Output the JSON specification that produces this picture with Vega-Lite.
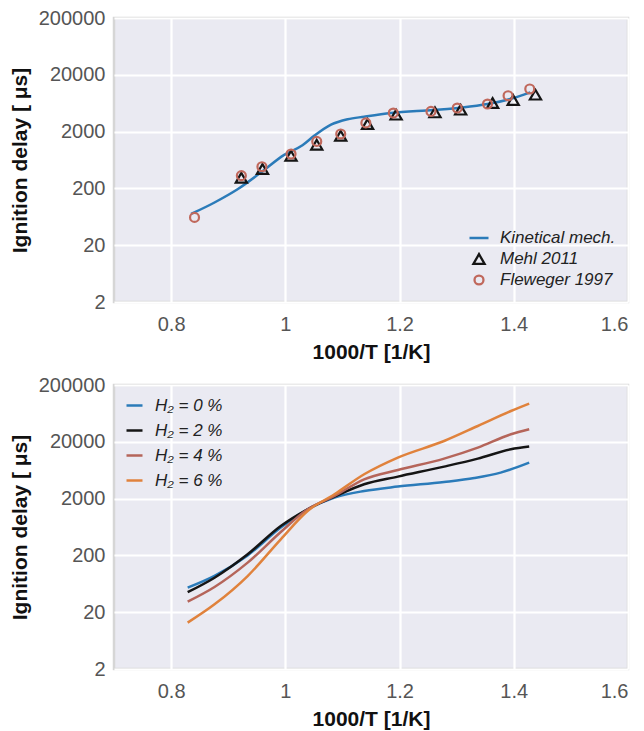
{
  "$schema": "https://vega.github.io/schema/vega-lite/v6.json",
  "padding": {"left": 8, "top": 6, "right": 5, "bottom": 5},
  "spacing": 9,
  "resolve": {"scale": {"color": "independent", "shape": "independent", "size": "independent"}, "legend": {"color": "independent", "shape": "independent", "size": "independent"}},
  "config": {
    "font": "Liberation Sans",
    "view": {"fill": "#EAEAF2", "stroke": "#d6d6d6", "strokeWidth": 2.5},
    "axis": {
      "grid": true, "gridColor": "#ffffff", "gridWidth": 2.2, "domain": false,
      "ticks": false, "tickSize": 0, "labelFontSize": 20, "labelColor": "#555555",
      "labelFont": "Liberation Sans", "titleFont": "Liberation Sans",
      "titleFontSize": 21, "titleFontWeight": "bold", "titleColor": "#111111"
    },
    "legend": {"labelFontSize": 17, "labelFontStyle": "italic", "labelColor": "#222222", "labelFont": "Liberation Sans"}
  },
  "vconcat": [
    {
      "width": 514, "height": 284,
      "data": {"values": [
        {"x": 0.835, "y": 71, "series": "Kinetical mech."},
        {"x": 0.876, "y": 113, "series": "Kinetical mech."},
        {"x": 0.917, "y": 195, "series": "Kinetical mech."},
        {"x": 0.957, "y": 380, "series": "Kinetical mech."},
        {"x": 0.998, "y": 780, "series": "Kinetical mech."},
        {"x": 1.03, "y": 1150, "series": "Kinetical mech."},
        {"x": 1.051, "y": 1700, "series": "Kinetical mech."},
        {"x": 1.08, "y": 2650, "series": "Kinetical mech."},
        {"x": 1.109, "y": 3300, "series": "Kinetical mech."},
        {"x": 1.138, "y": 3660, "series": "Kinetical mech."},
        {"x": 1.185, "y": 4250, "series": "Kinetical mech."},
        {"x": 1.26, "y": 4800, "series": "Kinetical mech."},
        {"x": 1.31, "y": 5300, "series": "Kinetical mech."},
        {"x": 1.354, "y": 6100, "series": "Kinetical mech."},
        {"x": 1.394, "y": 7500, "series": "Kinetical mech."},
        {"x": 1.429, "y": 9800, "series": "Kinetical mech."},
        {"x": 0.923, "y": 308, "series": "Mehl 2011"},
        {"x": 0.96, "y": 440, "series": "Mehl 2011"},
        {"x": 1.01, "y": 753, "series": "Mehl 2011"},
        {"x": 1.055, "y": 1175, "series": "Mehl 2011"},
        {"x": 1.097, "y": 1694, "series": "Mehl 2011"},
        {"x": 1.144, "y": 2722, "series": "Mehl 2011"},
        {"x": 1.194, "y": 3972, "series": "Mehl 2011"},
        {"x": 1.262, "y": 4356, "series": "Mehl 2011"},
        {"x": 1.307, "y": 4864, "series": "Mehl 2011"},
        {"x": 1.363, "y": 6380, "series": "Mehl 2011"},
        {"x": 1.399, "y": 7194, "series": "Mehl 2011"},
        {"x": 1.438, "y": 8934, "series": "Mehl 2011"},
        {"x": 0.841, "y": 61.7, "series": "Fleweger 1997"},
        {"x": 0.923, "y": 335, "series": "Fleweger 1997"},
        {"x": 0.959, "y": 482, "series": "Fleweger 1997"},
        {"x": 1.01, "y": 806, "series": "Fleweger 1997"},
        {"x": 1.055, "y": 1343, "series": "Fleweger 1997"},
        {"x": 1.097, "y": 1815, "series": "Fleweger 1997"},
        {"x": 1.141, "y": 2845, "series": "Fleweger 1997"},
        {"x": 1.189, "y": 4250, "series": "Fleweger 1997"},
        {"x": 1.255, "y": 4540, "series": "Fleweger 1997"},
        {"x": 1.301, "y": 5200, "series": "Fleweger 1997"},
        {"x": 1.354, "y": 6120, "series": "Fleweger 1997"},
        {"x": 1.39, "y": 8570, "series": "Fleweger 1997"},
        {"x": 1.428, "y": 11250, "series": "Fleweger 1997"}
      ]},
      "encoding": {
        "x": {"field": "x", "type": "quantitative", "scale": {"domain": [0.7, 1.6], "nice": false, "zero": false},
              "axis": {"values": [0.8, 1, 1.2, 1.4, 1.6], "format": "~g", "title": "1000/T [1/K]", "labelPadding": 12, "titlePadding": 7}},
        "y": {"field": "y", "type": "quantitative", "scale": {"type": "log", "domain": [2, 200000], "nice": false},
              "axis": {"values": [2, 20, 200, 2000, 20000, 200000], "format": "d", "title": "Ignition delay [ μs]", "labelPadding": 9, "titlePadding": 8}},
        "color": {"field": "series", "type": "nominal",
                  "scale": {"domain": ["Kinetical mech.", "Mehl 2011", "Fleweger 1997"], "range": ["#2b7bb9", "#151515", "#c0685c"]},
                  "legend": {"orient": "bottom-right", "offset": 12, "title": null, "padding": 0, "rowPadding": 1, "clipHeight": 20, "labelOffset": 10, "symbolStrokeWidth": 2.3}}
      },
      "layer": [
        {
          "transform": [{"filter": "datum.series === 'Kinetical mech.'"}],
          "mark": {"type": "line", "strokeWidth": 2.5, "interpolate": "monotone"}
        },
        {
          "transform": [{"filter": "datum.series !== 'Kinetical mech.'"}],
          "mark": {"type": "point", "filled": false, "strokeWidth": 2.2, "opacity": 1},
          "encoding": {
            "shape": {"field": "series", "type": "nominal",
                      "scale": {"domain": ["Kinetical mech.", "Mehl 2011", "Fleweger 1997"], "range": ["stroke", "triangle-up", "circle"]}},
            "size": {"field": "series", "type": "nominal",
                     "scale": {"type": "ordinal", "domain": ["Kinetical mech.", "Mehl 2011", "Fleweger 1997"], "range": [361, 125, 80]}}
          }
        }
      ]
    },
    {
      "width": 514, "height": 284,
      "data": {"values": [
        {"x": 0.829, "y": 54, "h2": "H₂ = 0 %"},
        {"x": 0.876, "y": 87, "h2": "H₂ = 0 %"},
        {"x": 0.934, "y": 200, "h2": "H₂ = 0 %"},
        {"x": 0.992, "y": 617, "h2": "H₂ = 0 %"},
        {"x": 1.039, "y": 1296, "h2": "H₂ = 0 %"},
        {"x": 1.086, "y": 2082, "h2": "H₂ = 0 %"},
        {"x": 1.138, "y": 2722, "h2": "H₂ = 0 %"},
        {"x": 1.197, "y": 3252, "h2": "H₂ = 0 %"},
        {"x": 1.278, "y": 3920, "h2": "H₂ = 0 %"},
        {"x": 1.331, "y": 4612, "h2": "H₂ = 0 %"},
        {"x": 1.377, "y": 5740, "h2": "H₂ = 0 %"},
        {"x": 1.427, "y": 8610, "h2": "H₂ = 0 %"},
        {"x": 0.829, "y": 45, "h2": "H₂ = 2 %"},
        {"x": 0.876, "y": 81, "h2": "H₂ = 2 %"},
        {"x": 0.934, "y": 209, "h2": "H₂ = 2 %"},
        {"x": 0.992, "y": 659, "h2": "H₂ = 2 %"},
        {"x": 1.039, "y": 1296, "h2": "H₂ = 2 %"},
        {"x": 1.086, "y": 2168, "h2": "H₂ = 2 %"},
        {"x": 1.138, "y": 3572, "h2": "H₂ = 2 %"},
        {"x": 1.197, "y": 4880, "h2": "H₂ = 2 %"},
        {"x": 1.278, "y": 7315, "h2": "H₂ = 2 %"},
        {"x": 1.337, "y": 10120, "h2": "H₂ = 2 %"},
        {"x": 1.395, "y": 14760, "h2": "H₂ = 2 %"},
        {"x": 1.427, "y": 16460, "h2": "H₂ = 2 %"},
        {"x": 0.829, "y": 30.7, "h2": "H₂ = 4 %"},
        {"x": 0.876, "y": 55.6, "h2": "H₂ = 4 %"},
        {"x": 0.934, "y": 149, "h2": "H₂ = 4 %"},
        {"x": 0.992, "y": 516, "h2": "H₂ = 4 %"},
        {"x": 1.039, "y": 1296, "h2": "H₂ = 4 %"},
        {"x": 1.086, "y": 2222, "h2": "H₂ = 4 %"},
        {"x": 1.138, "y": 4375, "h2": "H₂ = 4 %"},
        {"x": 1.197, "y": 6380, "h2": "H₂ = 4 %"},
        {"x": 1.278, "y": 10120, "h2": "H₂ = 4 %"},
        {"x": 1.337, "y": 15810, "h2": "H₂ = 4 %"},
        {"x": 1.395, "y": 27100, "h2": "H₂ = 4 %"},
        {"x": 1.427, "y": 33200, "h2": "H₂ = 4 %"},
        {"x": 0.829, "y": 13.1, "h2": "H₂ = 6 %"},
        {"x": 0.876, "y": 27.5, "h2": "H₂ = 6 %"},
        {"x": 0.934, "y": 86.7, "h2": "H₂ = 6 %"},
        {"x": 0.992, "y": 384, "h2": "H₂ = 6 %"},
        {"x": 1.039, "y": 1210, "h2": "H₂ = 6 %"},
        {"x": 1.086, "y": 2382, "h2": "H₂ = 6 %"},
        {"x": 1.138, "y": 5360, "h2": "H₂ = 6 %"},
        {"x": 1.197, "y": 10540, "h2": "H₂ = 6 %"},
        {"x": 1.278, "y": 20660, "h2": "H₂ = 6 %"},
        {"x": 1.337, "y": 37940, "h2": "H₂ = 6 %"},
        {"x": 1.395, "y": 69700, "h2": "H₂ = 6 %"},
        {"x": 1.427, "y": 94100, "h2": "H₂ = 6 %"}
      ]},
      "mark": {"type": "line", "strokeWidth": 2.5, "interpolate": "monotone"},
      "encoding": {
        "x": {"field": "x", "type": "quantitative", "scale": {"domain": [0.7, 1.6], "nice": false, "zero": false},
              "axis": {"values": [0.8, 1, 1.2, 1.4, 1.6], "format": "~g", "title": "1000/T [1/K]", "labelPadding": 12, "titlePadding": 7}},
        "y": {"field": "y", "type": "quantitative", "scale": {"type": "log", "domain": [2, 200000], "nice": false},
              "axis": {"values": [2, 20, 200, 2000, 20000, 200000], "format": "d", "title": "Ignition delay [ μs]", "labelPadding": 9, "titlePadding": 8}},
        "color": {"field": "h2", "type": "nominal",
                  "scale": {"domain": ["H₂ = 0 %", "H₂ = 2 %", "H₂ = 4 %", "H₂ = 6 %"], "range": ["#2b7bb9", "#151515", "#b5655a", "#e0823c"]},
                  "legend": {"orient": "top-left", "offset": 11, "title": null, "padding": 0, "rowPadding": 7, "labelOffset": 11, "symbolType": "stroke", "symbolSize": 256, "symbolStrokeWidth": 2.5}}
      }
    }
  ]
}
